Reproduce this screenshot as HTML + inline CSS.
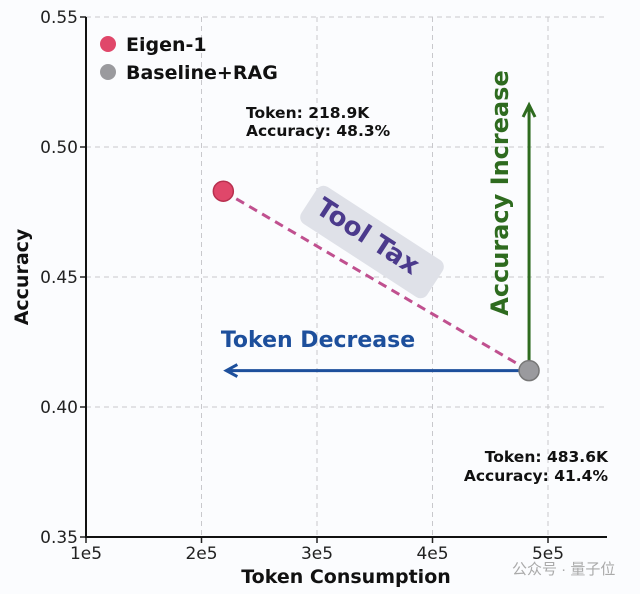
<!DOCTYPE html>
<html><head><meta charset="utf-8"><style>
body{margin:0;background:#fff;}
svg{display:block;font-family:"DejaVu Sans","Liberation Sans",sans-serif;}
</style></head><body>
<svg id="c" width="640" height="594" viewBox="0 0 640 594">
<rect width="640" height="594" fill="#fbfcfe"/>
<g id="grid"></g>
<g id="axes"></g>
<g id="marks"></g>
</svg>
<script>
const xTicks=[1e5,2e5,3e5,4e5,5e5];
const xTickLabels=["1e5","2e5","3e5","4e5","5e5"];
const yTicks=[0.35,0.40,0.45,0.50,0.55];
const yTickLabels=["0.35","0.40","0.45","0.50","0.55"];
const seriesNames=["Eigen-1","Baseline+RAG"];
const tokens=[218900,483600];
const accuracy=[0.483,0.414];
const colors=["#e0476a","#9a9a9e"];
const L=86,R=607,T=17,B=537;
const x=v=>L+(v-1e5)*(115.5/1e5);
const y=v=>B-(v-0.35)*(520/0.2);
const NS="http://www.w3.org/2000/svg";
function mk(tag,attrs,parent,text){const e=document.createElementNS(NS,tag);for(const k in attrs)e.setAttribute(k,attrs[k]);if(text!==undefined)e.textContent=text;document.getElementById(parent).appendChild(e);return e;}
xTicks.forEach((t,i)=>{
 const g=mk('line',{x1:x(t),x2:x(t),y1:T,y2:B,stroke:'#c8c8cc','stroke-dasharray':'5,4','stroke-width':1},'grid');
 
 
 mk('line',{x1:x(t),x2:x(t),y1:B,y2:B+6,stroke:'#222','stroke-width':1.5},'axes');
 const l=mk('text',{x:x(t),y:B+22,'text-anchor':'middle','font-size':17,fill:'#222'},'axes',xTickLabels[i]);
 
 
});
yTicks.forEach((t,i)=>{
 const g=mk('line',{x1:L,x2:R,y1:y(t),y2:y(t),stroke:'#c8c8cc','stroke-dasharray':'5,4','stroke-width':1},'grid');
 
 
 mk('line',{x1:L-6,x2:L,y1:y(t),y2:y(t),stroke:'#222','stroke-width':1.5},'axes');
 const l=mk('text',{x:L-8,y:y(t)+6,'text-anchor':'end','font-size':17,fill:'#222'},'axes',yTickLabels[i]);
 
 
});
const ax=mk('path',{d:`M${L},${T} V${B} H${R}`,fill:'none',stroke:'#111','stroke-width':2},'axes');


const xt=mk('text',{x:346,y:583,'text-anchor':'middle','font-size':19,'font-weight':'bold',fill:'#111'},'axes','Token Consumption');


const yt=mk('text',{x:0,y:0,transform:'translate(28,277) rotate(-90)','text-anchor':'middle','font-size':19,'font-weight':'bold',fill:'#111'},'axes','Accuracy');


const bx=mk('rect',{x:-75,y:-22,width:150,height:44,rx:8,fill:'#dfe1e8',transform:'translate(372,242) rotate(33)'},'marks');


const tt=mk('text',{x:0,y:9,'text-anchor':'middle','font-size':26,'font-weight':'bold',fill:'#4b3a8c',transform:'translate(368,236) rotate(33)'},'marks','Tool Tax');


const dl=mk('line',{x1:x(tokens[0]),y1:y(accuracy[0]),x2:x(tokens[1]),y2:y(accuracy[1]),stroke:'#c0508f','stroke-width':3,'stroke-dasharray':'9,6'},'marks');


const ta=mk('path',{d:`M${x(tokens[1])},${y(accuracy[1])} H${x(tokens[0])+4} M${x(tokens[0])+14},${y(accuracy[1])-6} L${x(tokens[0])+3},${y(accuracy[1])} L${x(tokens[0])+14},${y(accuracy[1])+6}`,fill:'none',stroke:'#1d4f9c','stroke-width':3},'marks');


const tl=mk('text',{x:318,y:347,'text-anchor':'middle','font-size':22,'font-weight':'bold',fill:'#1d4f9c'},'marks','Token Decrease');


const aa=mk('path',{d:`M${x(tokens[1])},${y(accuracy[1])} V106 M${x(tokens[1])-6},117 L${x(tokens[1])},105 L${x(tokens[1])+6},117`,fill:'none',stroke:'#2e6b1f','stroke-width':3},'marks');


const al=mk('text',{x:0,y:0,transform:'translate(508,193) rotate(-90)','text-anchor':'middle','font-size':24,'font-weight':'bold',fill:'#2e6b1f'},'marks','Accuracy Increase');


tokens.forEach((t,i)=>{
 const c=mk('circle',{cx:x(t),cy:y(accuracy[i]),r:10,fill:colors[i],stroke:i?'#777':'#b8304f','stroke-width':1.5},'marks');
 
 
});
const an=[[246,118,"Token: 218.9K"],[246,136,"Accuracy: 48.3%"],[608,462,"Token: 483.6K"],[608,481,"Accuracy: 41.4%"]];
an.forEach((a,i)=>{
 const e=mk('text',{x:a[0],y:a[1],'text-anchor':i<2?'start':'end','font-size':15.5,'font-weight':'bold',fill:'#111'},'marks',a[2]);
 
 
});
seriesNames.forEach((n,i)=>{
 const c=mk('circle',{cx:108,cy:44+28*i,r:8,fill:colors[i]},'marks');
 
 
 const e=mk('text',{x:126,y:51+28*i,'font-size':19,'font-weight':'bold',fill:'#111'},'marks',n);
 
 
});
const wm=mk('text',{x:512,y:574,'font-size':15,fill:'#aaa','font-family':'"Liberation Sans","Noto Sans CJK SC",sans-serif'},'marks','公众号 · 量子位');


</script>
</body></html>
